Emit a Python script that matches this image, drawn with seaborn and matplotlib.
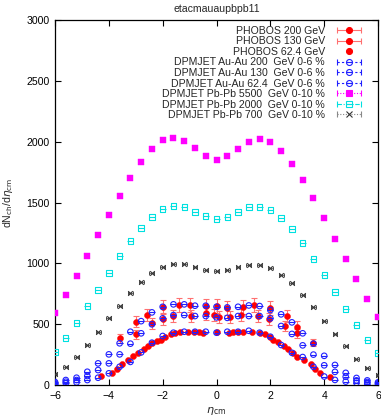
import numpy as np
import pandas as pd
import matplotlib
matplotlib.use("Agg")
import matplotlib.pyplot as plt
from matplotlib.lines import Line2D
from matplotlib.legend_handler import HandlerLine2D
import seaborn as sns

# --- data ---
eta_grid = np.round(np.arange(-6.0, 6.01, 0.4), 1)  # DPMJET eta bins

dpm_auau_200 = [25, 41, 60, 109, 178, 252, 343, 438, 525, 597, 643, 663, 663, 652, 652, 643,
                638, 643, 654, 649, 616, 581, 515, 425, 340, 240, 165, 100, 58, 38, 22]
dpm_auau_130 = [15, 27, 41, 74, 123, 178, 252, 340, 425, 499, 548, 575, 575, 567, 567, 556,
                552, 567, 567, 567, 548, 485, 420, 326, 250, 162, 108, 68, 38, 25, 14]
dpm_auau_62 = [8, 14, 22, 41, 60, 96, 150, 190, 268, 348, 403, 430, 438, 438, 438, 430,
               438, 438, 446, 430, 397, 329, 265, 230, 150, 70, 42, 28, 18, 10, 6]
dpm_pbpb_5500 = [592, 740, 896, 1060, 1233, 1397, 1553, 1701, 1832, 1939, 2013, 2030, 2005,
                 1947, 1882, 1849, 1882, 1939, 1997, 2021, 1997, 1923, 1816, 1684, 1537, 1372,
                 1200, 1035, 871, 707, 559]
dpm_pbpb_2000 = [271, 386, 509, 649, 781, 920, 1060, 1183, 1290, 1380, 1446, 1471, 1463, 1422,
                 1389, 1364, 1380, 1422, 1463, 1463, 1438, 1372, 1282, 1167, 1035, 904, 764,
                 624, 493, 370, 263]
dpm_pbpb_700 = [90, 148, 230, 329, 435, 551, 649, 756, 846, 920, 970, 994, 994, 970, 943, 937,
                943, 967, 986, 986, 959, 904, 836, 740, 638, 528, 416, 317, 214, 137, 82]

phobos200_eta = [-3.0, -2.6, -2.0, -1.4, -1.0, -0.4, 0.0, 0.4, 1.0, 1.4, 2.0, 2.6, 3.0]
phobos200_val = [520, 575, 638, 657, 657, 649, 649, 630, 643, 657, 630, 567, 479]
phobos130_eta = [-3.6, -3.0, -2.4, -2.0, -1.6, -0.95, -0.4, -0.1, 0.1, 0.5, 0.9, 1.55, 1.95,
                 2.55, 3.0, 3.6]
phobos130_val = [384, 416, 507, 542, 569, 569, 589, 575, 561, 561, 575, 567, 540, 485, 425, 348]
phobos62_eta = [-4.3, -3.9, -3.7, -3.5, -3.3, -3.1, -2.9, -2.7, -2.55, -2.4, -2.2, -2.05, -1.9,
                -1.7, -1.55, -1.35, -1.05, -0.85, -0.65, -0.5, 0.0, 0.45, 0.6, 0.8, 1.0, 1.3,
                1.6, 1.8, 2.0, 2.1, 2.3, 2.5, 2.65, 2.85, 3.0, 3.25, 3.5, 3.65, 3.85, 4.2]
phobos62_val = [74, 101, 129, 170, 205, 238, 265, 296, 323, 343, 362, 370, 397, 419, 430, 438,
                438, 433, 433, 430, 433, 430, 433, 438, 438, 438, 430, 419, 392, 370, 351, 323,
                296, 265, 233, 205, 170, 129, 96, 68]

labels = ["PHOBOS 200 GeV", "PHOBOS 130 GeV", "PHOBOS 62.4 GeV",
          "DPMJET Au-Au 200  GeV 0-6 %", "DPMJET Au-Au 130  GeV 0-6 %",
          "DPMJET Au-Au 62.4  GeV 0-6 %", "DPMJET Pb-Pb 5500  GeV 0-10 %",
          "DPMJET Pb-Pb 2000  GeV 0-10 %", "DPMJET Pb-Pb 700  GeV 0-10 %"]

sns.set_theme(style="ticks")
plt.rcParams["font.family"] = ["Liberation Sans", "DejaVu Sans"]
plt.rcParams["font.size"] = 7.6

RED, EBAR, BLUE, MAG, CYAN, GREY = "#ff0000", "#ff7070", "#2020ff", "#ff00ff", "#00e0e0", "#333333"

fig = plt.figure(figsize=(3.81, 4.18), dpi=100)
ax = fig.add_axes([0.1444, 0.0789, 0.8478, 0.8732])


def open_pts(x, y, marker, color, s):
    sns.scatterplot(x=x, y=y, ax=ax, marker=marker, color=color, edgecolor=color,
                    s=s, linewidth=0.8, legend=False, zorder=3)
    ax.collections[-1].set_facecolor("none")


def bar_pts(x, y, marker, color, s):
    sns.scatterplot(x=x, y=y, ax=ax, marker=marker, color=color, s=s,
                    linewidth=0.8, legend=False, zorder=3)


# PHOBOS data with error bars
for ex, ev in [(phobos200_eta, phobos200_val), (phobos130_eta, phobos130_val)]:
    ev = np.array(ev)
    ax.errorbar(ex, ev, yerr=0.09 * ev, fmt="none", ecolor=EBAR, elinewidth=0.8,
                capsize=2.5, capthick=0.8, zorder=2)
    sns.scatterplot(x=ex, y=ev, ax=ax, marker="o", color=RED, edgecolor=RED, s=19,
                    linewidth=0.3, legend=False, zorder=3)
sns.scatterplot(x=phobos62_eta, y=phobos62_val, ax=ax, marker="o", color=RED, edgecolor=RED,
                s=19, linewidth=0.3, legend=False, zorder=3)

# DPMJET Au-Au
for vals in [dpm_auau_200, dpm_auau_130, dpm_auau_62]:
    open_pts(eta_grid, vals, "o", BLUE, 16)
    bar_pts(eta_grid, vals, "_", BLUE, 16)

# DPMJET Pb-Pb
sns.scatterplot(x=eta_grid, y=dpm_pbpb_5500, ax=ax, marker="s", color=MAG, edgecolor=MAG,
                s=13, linewidth=0.3, legend=False, zorder=3)
open_pts(eta_grid, dpm_pbpb_2000, "s", CYAN, 15)
bar_pts(eta_grid, dpm_pbpb_2000, "_", CYAN, 15)
ax.errorbar(eta_grid, dpm_pbpb_700, xerr=0.09, fmt="none", ecolor=GREY, elinewidth=0.5,
            capsize=1.6, capthick=0.6, zorder=3)
bar_pts(eta_grid, dpm_pbpb_700, "x", GREY, 11)

ax.set_xlim(-6, 6)
ax.set_ylim(0, 3000)
ax.set_xticks(np.arange(-6, 7, 2))
ax.set_yticks(np.arange(0, 3001, 500))
ax.tick_params(direction="in", length=4, width=0.8, top=True, right=True,
               labelsize=7.6, pad=4, colors="black")
for sp in ax.spines.values():
    sp.set_linewidth(0.9)
    sp.set_color("black")

ax.set_title("etacmauaupbpb11", fontsize=7.6, pad=6)
ax.set_xlabel(r"$\eta_{\rm cm}$", fontsize=8)
ax.set_ylabel(r"dN$_{\rm ch}$/d$\eta_{\rm cm}$", fontsize=7.6)
ax.xaxis.set_label_coords(0.5, -0.055)
ax.yaxis.set_label_coords(-0.125, 0.5)


# legend drawn gnuplot-like: sample to the right of right-aligned text
def cap_line(color, ls):
    return Line2D([], [], color=color, linestyle=ls, linewidth=0.8, marker="|",
                  markersize=5, markeredgewidth=0.8)


def mk(marker, color, fill=True, s=4.3):
    return Line2D([], [], linestyle="none", marker=marker, markersize=s,
                  markerfacecolor=color if fill else "none", markeredgecolor=color,
                  markeredgewidth=0.8)


caps = [cap_line(EBAR, "-"), cap_line(EBAR, "-"),
        cap_line(BLUE, (0, (2, 2))), cap_line(BLUE, (0, (2, 2))), cap_line(BLUE, (0, (2, 2))),
        cap_line(MAG, (0, (1, 1.5))), cap_line(CYAN, (0, (4, 1.5, 1, 1.5))),
        cap_line("#888888", (0, (1, 1.5)))]
handles = [
    (caps[0], mk("o", RED)),
    (caps[1], mk("o", RED)),
    mk("o", RED),
    (caps[2], mk("o", BLUE, False), mk("_", BLUE)),
    (caps[3], mk("o", BLUE, False), mk("_", BLUE)),
    (caps[4], mk("o", BLUE, False), mk("_", BLUE)),
    (caps[5], mk("s", MAG, s=4)),
    (caps[6], mk("s", CYAN, False), mk("_", CYAN)),
    (caps[7], mk("x", GREY, s=4)),
]
hmap = {c: HandlerLine2D(numpoints=2) for c in caps}
ax.legend(handles, labels, handler_map=hmap, loc="upper right",
          bbox_to_anchor=(0.957, 0.984), frameon=False, markerfirst=False,
          handlelength=2.85, handletextpad=0.85, labelspacing=0.05,
          borderpad=0, borderaxespad=0, fontsize=7.6)

fig.savefig("out.png", dpi=100)
